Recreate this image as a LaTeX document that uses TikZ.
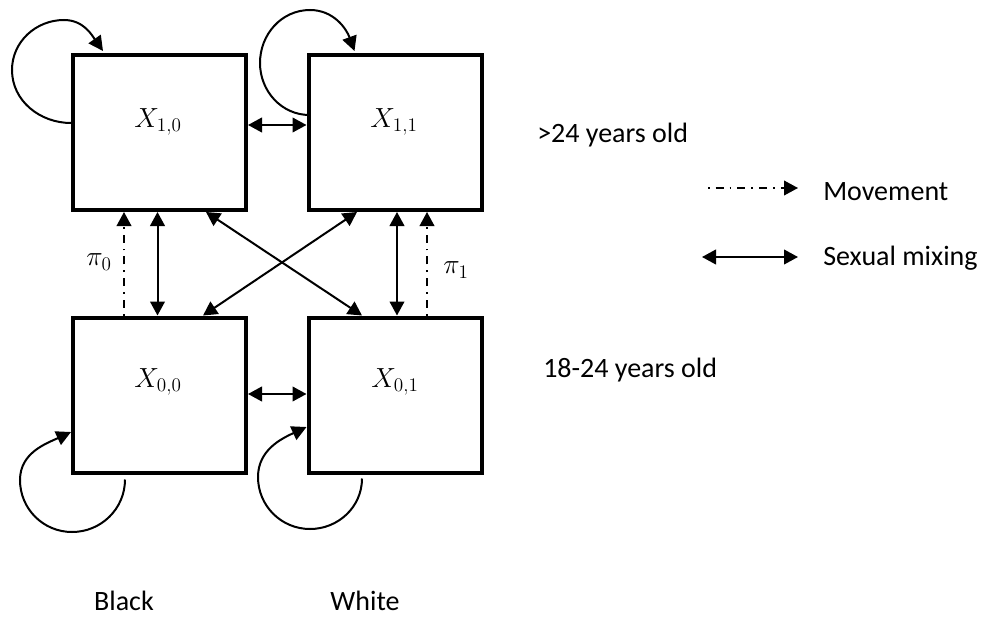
\documentclass[tikz,border=0pt]{standalone}
\usepackage[no-math]{fontspec}
\setmainfont{Carlito}
\usetikzlibrary{arrows.meta,calc}

\tikzset{
  stage/.style={draw, line width=3pt, minimum width=129.75pt, minimum height=116.25pt, inner sep=0pt},
  lbl/.style={inner sep=0pt, font=\fontsize{21}{25}\selectfont},
  mathlbl/.style={inner sep=0pt, font=\fontsize{22.5}{26}\selectfont},
  mixing/.style={line width=1.5pt, {Triangle[length=10.5pt,width=11pt]}-{Triangle[length=10.5pt,width=11pt]}},
  movement/.style={line width=1.3pt, dash pattern=on 1.3pt off 4.5pt on 6pt off 4.5pt, -{Triangle[length=10.5pt,width=11pt]}},
  selfloop/.style={line width=1.5pt, -{Triangle[length=11pt,width=11pt]}}
}

\begin{document}
\begin{tikzpicture}[x=0.75pt, y=0.75pt]
\useasboundingbox (0,0) rectangle (984,619);

% compartments
\node[stage] (b10) at (159.5,486.5) {};
\node[stage] (b11) at (395,486.5) {};
\node[stage] (b00) at (159.5,224) {};
\node[stage] (b01) at (395,224) {};

\node[mathlbl] (l10) at (158,497) {$X_{1,0}$};
\node[mathlbl] (l11) at (394,497) {$X_{1,1}$};
\node[mathlbl] (l00) at (158,237) {$X_{0,0}$};
\node[mathlbl] (l01) at (395,237) {$X_{0,1}$};

% sexual mixing between compartments
\draw[mixing] ($(b10.east)+(0,7.5)$) -- ($(b11.west)+(0,7.5)$);
\draw[mixing] ($(b00.east)+(0,1)$) -- ($(b01.west)+(0,1)$);
\draw[mixing] ($(b10.south)+(-2,0)$) -- ($(b00.north)+(-2,0)$);
\draw[mixing] ($(b11.south)+(2,0)$) -- ($(b01.north)+(2,0)$);
\draw[mixing] ($(b10.south)+(46.5,0)$) -- ($(b01.north)+(-33,0)$);
\draw[mixing] ($(b11.south)+(-38,0)$) -- ($(b00.north)+(43.5,0)$);

% ageing (movement)
\draw[movement] ($(b00.north)+(-35.5,0)$) -- ($(b10.south)+(-35.5,0)$);
\draw[movement] ($(b01.north)+(32,0)$) -- ($(b11.south)+(32,0)$);
\node[mathlbl] (p0) at (99,357) {$\pi_0$};
\node[mathlbl] (p1) at (456,349) {$\pi_1$};

% self loops
\draw[selfloop] ($(b10.west)+(0,9.5)$) to[out=180,in=-90] (12,549)
  to[out=90,in=180] (64,599) to[out=0,in=125] ($(b10.north west)+(32,2)$);
\draw[selfloop] ($(b11.west)+(3,17.5)$) to[out=180,in=-90] (260,556)
  to[out=90,in=180] (310,609) to[out=0,in=110] ($(b11.north west)+(48,2)$);
\draw[selfloop] ($(b00.south)+(-34.5,-5)$) to[out=-90,in=0] (72,87)
  to[out=180,in=-90] (20,139) to[out=90,in=205] ($(b00.west)+(0,-37)$);
\draw[selfloop] ($(b01.south)+(-33,-4)$) to[out=-90,in=0] (310,90)
  to[out=180,in=-90] (258,142) to[out=90,in=205] ($(b01.west)+(0,-32)$);

% age groups and races
\node[lbl, anchor=base west] (old) at (537,477) {>24 years old};
\node[lbl, anchor=base west] (young) at (543,242) {18-24 years old};
\node[lbl, anchor=base] (black) at (124,9) {Black};
\node[lbl, anchor=base] (white) at (365,9) {White};

% legend
\coordinate (mvA) at (708,431);
\coordinate (mvB) at (798,431);
\coordinate (mxA) at (702,362);
\coordinate (mxB) at (798,362);
\draw[movement] (mvA) -- (mvB);
\draw[mixing] (mxA) -- (mxB);
\node[lbl, anchor=base west] (mvtxt) at (823,419) {Movement};
\node[lbl, anchor=base west] (mxtxt) at (823,354) {Sexual mixing};
\end{tikzpicture}
\end{document}
